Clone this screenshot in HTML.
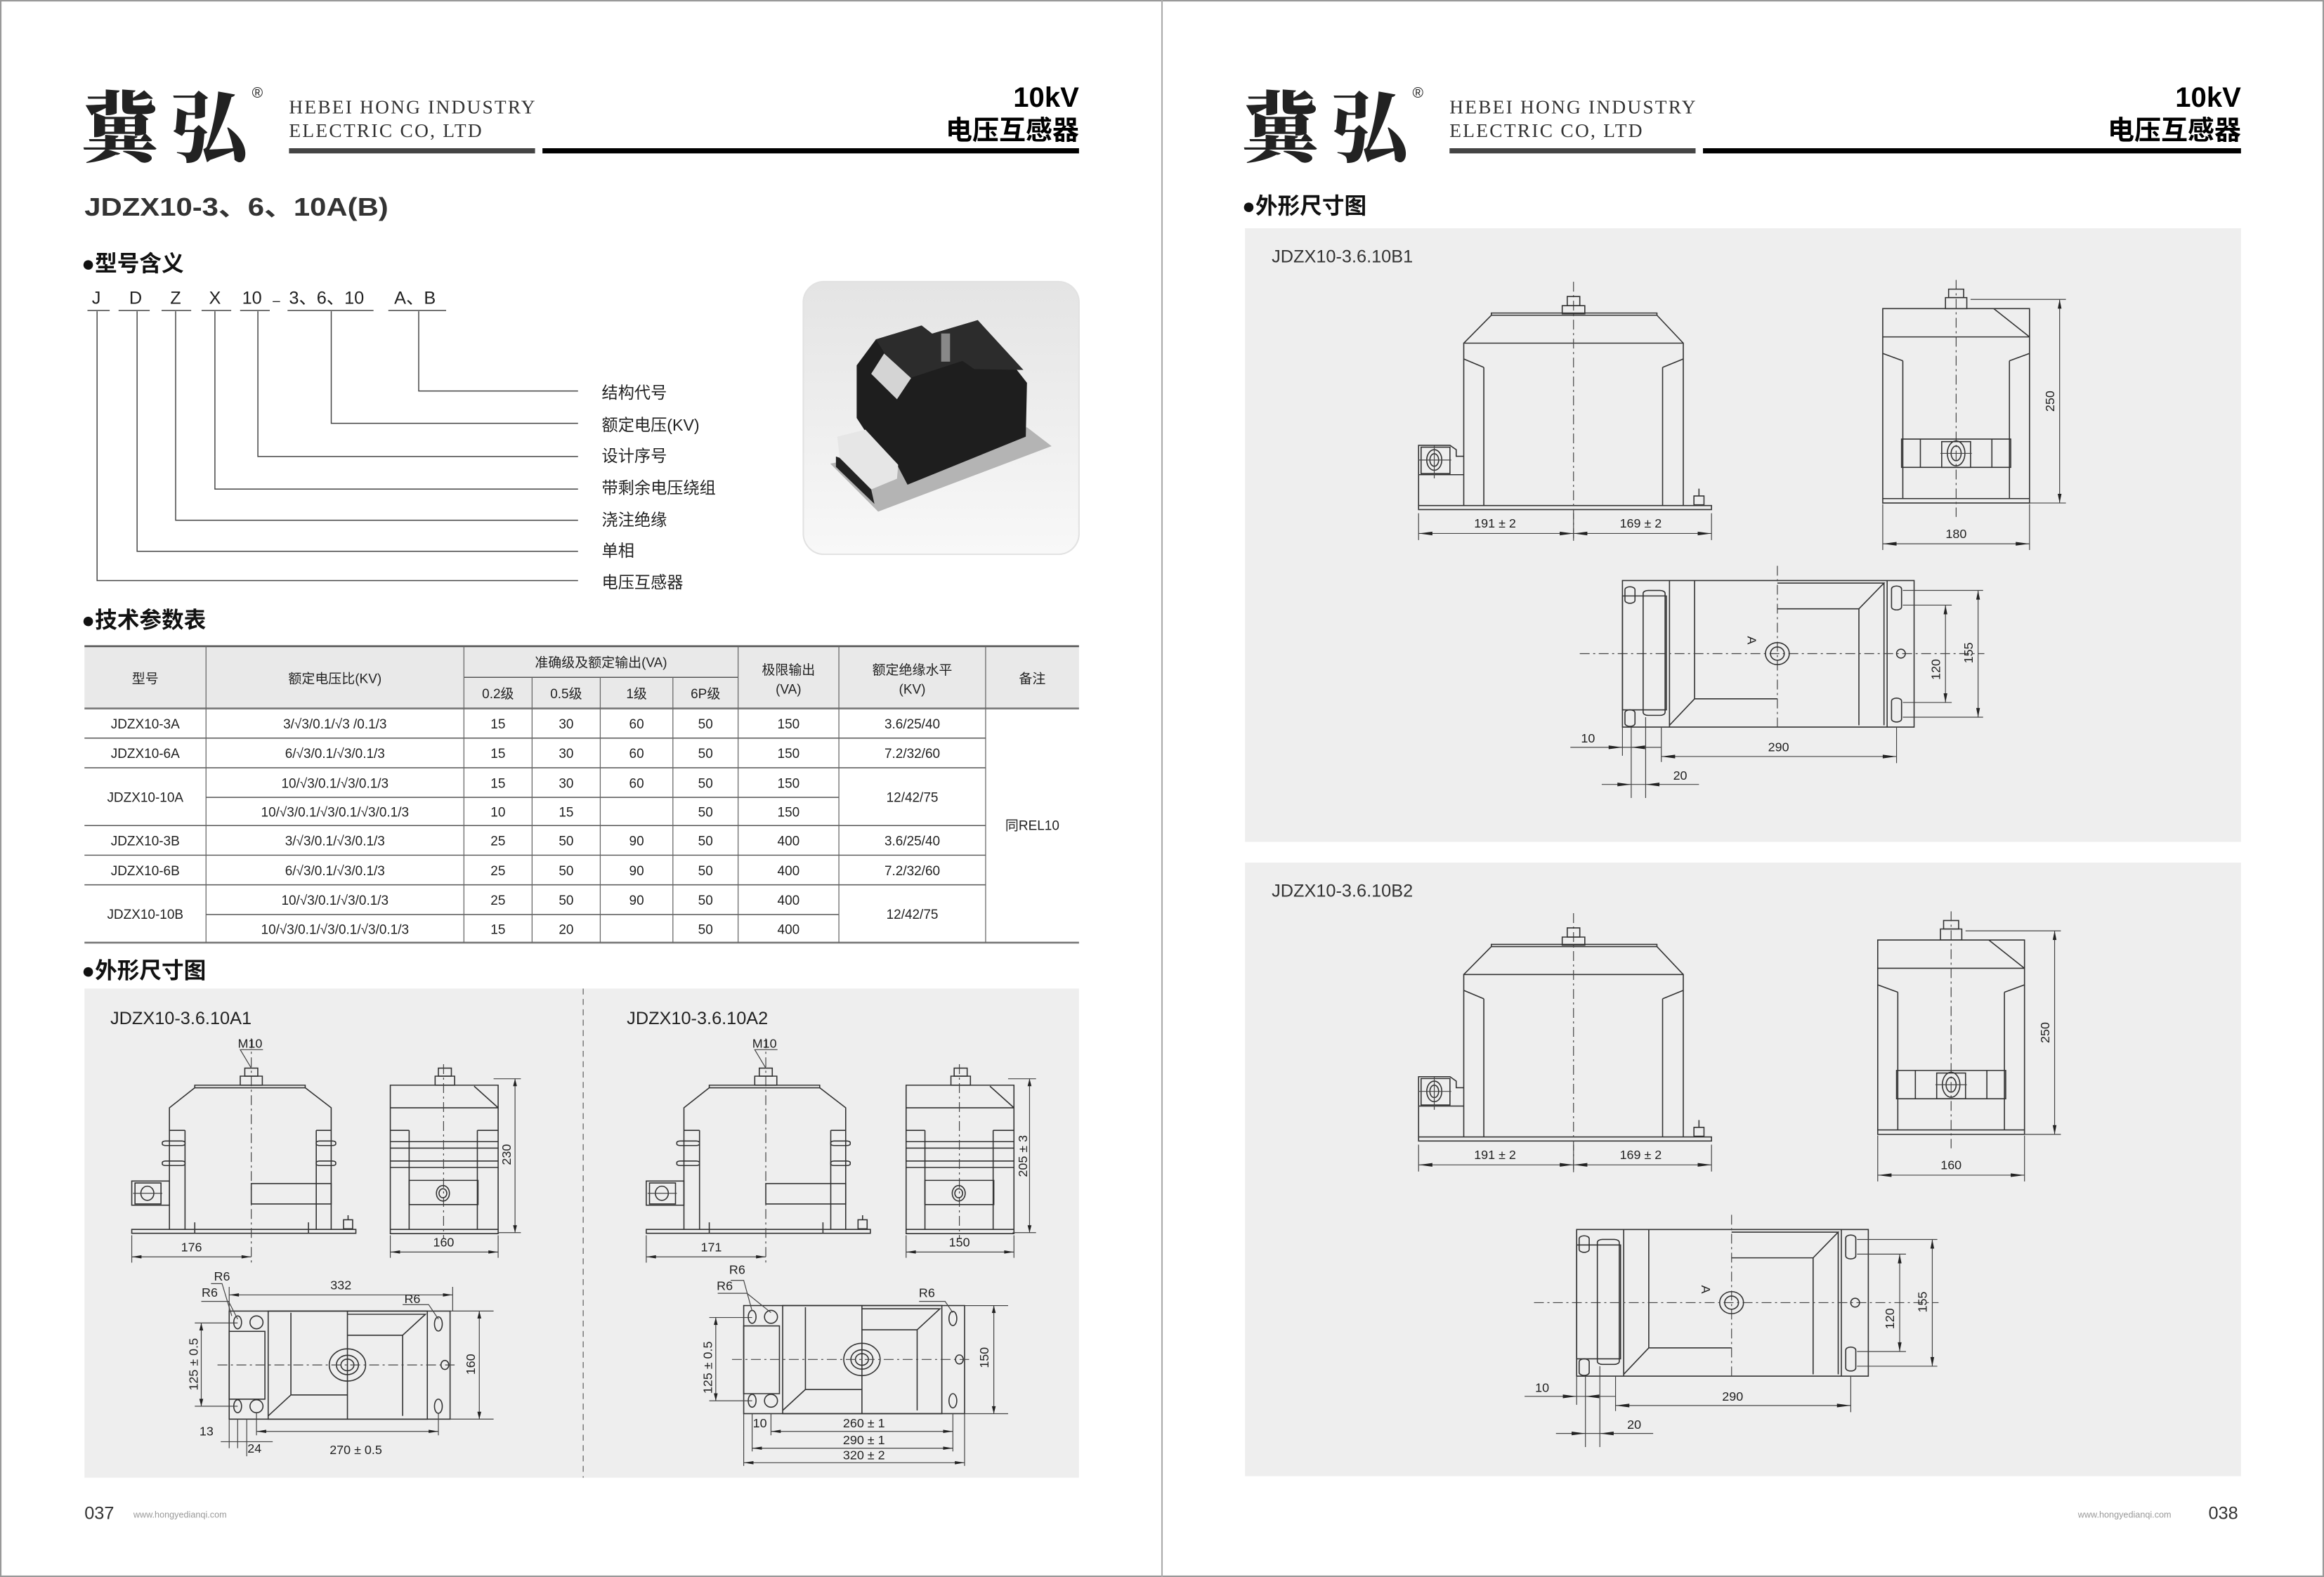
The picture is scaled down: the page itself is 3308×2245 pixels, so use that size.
<!DOCTYPE html>
<html><head><meta charset="utf-8"><style>
html,body{margin:0;padding:0;background:#fff;}
svg{display:block;}
text{font-family:"Liberation Sans","Noto Sans CJK SC",sans-serif;fill:#222;}
.d{fill:none;stroke:#333;stroke-width:1.6;vector-effect:non-scaling-stroke;}
.c{fill:none;stroke:#444;stroke-width:1.2;stroke-dasharray:14 5 3 5;vector-effect:non-scaling-stroke;}
.t{fill:none;stroke:#444;stroke-width:1.2;vector-effect:non-scaling-stroke;}
.a{fill:#222;stroke:none;}
.dim{font-size:8.5px;fill:#222;}
</style></head><body>
<svg width="3308" height="2245" viewBox="0 0 1568 1064" preserveAspectRatio="none" xmlns="http://www.w3.org/2000/svg">
<defs>
<g id="bf">
 <rect class="d" x="268" y="764" width="467" height="11"/>
 <path class="d" d="M340 764V322H690V764M372 764V388M657 764V388M340 365L372 388M690 365L657 388M340 322L384 246M690 322L648 246"/>
 <rect class="d" x="384" y="240" width="264" height="6"/>
 <path class="c" d="M515 155V860"/>
 <rect class="d" x="497" y="220" width="36" height="22"/>
 <rect class="d" x="505" y="195" width="20" height="25"/>
 <path class="d" d="M268 764V600H318L328 612V630H340M268 680H340"/>
 <rect class="d" x="272" y="605" width="46" height="72"/>
 <ellipse class="d" cx="293" cy="640" rx="12" ry="28"/>
 <ellipse class="d" cx="293" cy="640" rx="7" ry="17"/>
 <path class="t" d="M268 640H320M293 600V690"/>
 <rect class="d" x="707" y="738" width="16" height="24"/>
 <path class="d" d="M715 718V738"/>
 <path class="t" d="M268 785V858M515 785V860M735 785V858M268 840H735"/>
 <polygon class="a" points="268,840 290,835 290,845"/><polygon class="a" points="515,840 493,835 493,845"/>
 <polygon class="a" points="515,840 537,835 537,845"/><polygon class="a" points="735,840 713,835 713,845"/>
</g>
<g id="bs">
 <rect class="d" x="1008" y="228" width="234" height="529"/>
 <path class="d" d="M1008 305H1242M1185 228L1242 305M1040 745V370M1210 745V370M1008 350L1040 370M1242 350L1210 370M1008 745H1242"/>
 <rect class="d" x="1108" y="198" width="34" height="30"/>
 <rect class="d" x="1113" y="175" width="24" height="23"/>
 <path class="c" d="M1125 150V795"/>
 <rect class="d" x="1038" y="583" width="174" height="77"/>
 <path class="d" d="M1068 583V660M1182 583V660M1102 590H1148V660H1102Z"/>
 <ellipse class="d" cx="1125" cy="622" rx="14" ry="34"/>
 <ellipse class="d" cx="1125" cy="622" rx="8" ry="20"/>
 <path class="t" d="M1100 622H1150M1148 203H1300M1242 757H1300M1290 203V757M1008 760V885M1242 760V885M1008 868H1242"/>
 <polygon class="a" points="1290,203 1287,228 1293,228"/><polygon class="a" points="1290,757 1287,732 1293,732"/>
 <polygon class="a" points="1008,868 1030,863 1030,873"/><polygon class="a" points="1242,868 1220,863 1220,873"/>
</g>
<g id="bp">
 <rect class="d" x="593" y="968" width="465" height="399"/>
 <path class="d" d="M668 968V1367M1015 968V1367M708 968V1290H840M668 1362L708 1290M840 975H1010L970 1045H840M970 1045V1362M1010 975V1362"/>
 <path class="c" d="M840 928V1375M525 1167H1170"/>
 <rect class="d" x="593" y="1010" width="70" height="310"/>
 <rect class="d" x="626" y="995" width="35" height="340" rx="8"/>
 <rect class="d" x="597" y="985" width="16" height="45" rx="8"/>
 <rect class="d" x="597" y="1320" width="16" height="45" rx="8"/>
 <rect class="d" x="1022" y="983" width="16" height="65" rx="8"/>
 <rect class="d" x="1022" y="1288" width="16" height="65" rx="8"/>
 <ellipse class="d" cx="840" cy="1167" rx="19" ry="30"/>
 <ellipse class="d" cx="840" cy="1167" rx="11" ry="18"/>
 <ellipse class="d" cx="1037" cy="1167" rx="7" ry="12"/>
 <path class="t" d="M1040 995H1168M1040 1340H1168M1040 1035H1118M1040 1300H1118M1160 995V1340M1108 1035V1300M655 1367V1462M1030 1367V1465M655 1447H1030M593 1367V1445M607 1367V1560M630 1340V1560M510 1422H655M560 1523H715"/>
 <polygon class="a" points="1160,995 1157,1020 1163,1020"/><polygon class="a" points="1160,1340 1157,1315 1163,1315"/>
 <polygon class="a" points="1108,1035 1105,1060 1111,1060"/><polygon class="a" points="1108,1300 1105,1275 1111,1275"/>
 <polygon class="a" points="655,1447 677,1442 677,1452"/><polygon class="a" points="1030,1447 1008,1442 1008,1452"/>
 <polygon class="a" points="593,1422 571,1417 571,1427"/><polygon class="a" points="607,1422 629,1417 629,1427"/>
 <polygon class="a" points="607,1523 585,1518 585,1528"/><polygon class="a" points="630,1523 652,1518 652,1528"/>
</g>
<g id="af">
 <rect class="d" x="73" y="762" width="345" height="12"/>
 <path class="d" d="M131 762V385L170 323M380 762V385L340 323M155 762V455M357 762V455M131 455H155M357 455H380"/>
 <rect class="d" x="170" y="315" width="170" height="8"/>
 <rect class="d" x="120" y="488" width="35" height="14" rx="5"/>
 <rect class="d" x="120" y="550" width="35" height="14" rx="5"/>
 <rect class="d" x="357" y="488" width="30" height="14" rx="5"/>
 <rect class="d" x="357" y="550" width="30" height="14" rx="5"/>
 <rect class="d" x="257" y="620" width="123" height="63"/>
 <path class="c" d="M257 170V870"/>
 <rect class="d" x="240" y="287" width="34" height="28"/>
 <rect class="d" x="247" y="262" width="20" height="25"/>
 <path class="t" d="M257 262L240 205H275"/>
 <rect class="d" x="73" y="612" width="58" height="75"/>
 <rect class="d" x="78" y="618" width="40" height="65"/>
 <ellipse class="d" cx="97" cy="650" rx="10" ry="22"/>
 <path class="t" d="M75 650H120"/>
 <rect class="d" x="399" y="732" width="14" height="28"/>
 <path class="d" d="M406 718V732M170 740V775M345 740V775"/>
 <path class="t" d="M73 780V865M73 847H257"/>
 <polygon class="a" points="73,847 88,842 88,852"/><polygon class="a" points="257,847 242,842 242,852"/>
</g>
<g id="as">
 <rect class="d" x="471" y="315" width="166" height="460"/>
 <path class="d" d="M471 385H637M600 318L637 385M471 455H500M605 455H637M471 490H637M471 510H637M471 550H637M471 570H637M471 762H637M500 455V762M605 455V762"/>
 <rect class="d" x="540" y="287" width="30" height="28"/>
 <rect class="d" x="545" y="262" width="20" height="25"/>
 <path class="c" d="M553 250V790"/>
 <rect class="d" x="500" y="610" width="106" height="75"/>
 <ellipse class="d" cx="552" cy="650" rx="10" ry="24"/>
 <ellipse class="d" cx="552" cy="650" rx="6" ry="14"/>
 <path class="t" d="M471 780V850M637 780V850M471 832H637"/>
 <polygon class="a" points="471,832 486,827 486,837"/><polygon class="a" points="637,832 622,827 622,837"/>
</g>
<g id="ap">
 <rect class="d" x="223" y="1015" width="340" height="335"/>
 <rect class="d" x="283" y="1015" width="245" height="335"/>
 <path class="d" d="M318 1020V1275H405M283 1340L318 1275M405 1025H525L490 1090H405M490 1090V1340M405 1015V1350"/>
 <rect class="d" x="223" y="1078" width="55" height="210"/>
 <ellipse class="d" cx="265" cy="1050" rx="10" ry="20"/>
 <ellipse class="d" cx="265" cy="1310" rx="10" ry="20"/>
 <ellipse class="d" cx="236" cy="1050" rx="6" ry="20"/>
 <ellipse class="d" cx="236" cy="1310" rx="6" ry="20"/>
 <ellipse class="d" cx="545" cy="1055" rx="6" ry="22"/>
 <ellipse class="d" cx="545" cy="1310" rx="6" ry="22"/>
 <ellipse class="d" cx="555" cy="1182" rx="6" ry="14"/>
 <ellipse class="d" cx="405" cy="1182" rx="28" ry="50"/>
 <ellipse class="d" cx="405" cy="1182" rx="17" ry="30"/>
 <ellipse class="d" cx="405" cy="1182" rx="10" ry="18"/>
 <path class="c" d="M205 1182H570"/>
</g>
</defs>

<rect x="0.5" y="0.5" width="1567" height="1063" fill="#fff" stroke="#999" stroke-width="1"/>
<line x1="784" y1="0" x2="784" y2="1064" stroke="#aaa" stroke-width="1"/>

<text x="55" y="105" style="font-family:'Noto Serif CJK SC',serif;font-weight:900;font-size:52px;fill:#222" textLength="112">冀弘</text>
<text x="170" y="66" style="font-size:10px">®</text>
<text x="195" y="76.5" style="font-family:'Liberation Serif',serif;font-size:13px;fill:#333" textLength="166">HEBEI HONG INDUSTRY</text>
<text x="195" y="92.5" style="font-family:'Liberation Serif',serif;font-size:13px;fill:#333" textLength="130">ELECTRIC CO, LTD</text>
<rect x="195" y="100" width="166" height="3.5" fill="#444"/>
<rect x="366" y="100" width="362" height="3.5" fill="#000"/>
<text x="728" y="72" text-anchor="end" style="font-weight:bold;font-size:19px;fill:#000">10kV</text>
<text x="728" y="94" text-anchor="end" style="font-weight:bold;font-size:18px;fill:#000">电压互感器</text>

<text x="57" y="145.5" style="font-weight:bold;font-size:17px;fill:#333" textLength="205" lengthAdjust="spacingAndGlyphs">JDZX10-3、6、10A(B)</text>
<text x="55" y="183" style="font-weight:bold;font-size:15px;fill:#111">●型号含义</text>

<g style="font-size:12px;fill:#333">
<text x="65" y="205" text-anchor="middle">J</text>
<text x="91.5" y="205" text-anchor="middle">D</text>
<text x="118.5" y="205" text-anchor="middle">Z</text>
<text x="145" y="205" text-anchor="middle">X</text>
<text x="170" y="205" text-anchor="middle">10</text>
<text x="184" y="206" style="font-size:9px">–</text>
<text x="195" y="205">3、6、10</text>
<text x="266" y="205">A、B</text>
</g>
<g stroke="#444" stroke-width="0.7" fill="none">
<path d="M59 209.5H74M80 209.5H101M109 209.5H129M136 209.5H156M162 209.5H182M194 209.5H252M262 209.5H301"/>
<path d="M282.5 210V263.8H390M223.5 210V285.6H390M174 210V308H390M145 210V330H390M118.5 210V351H390M92.5 210V372H390M65.5 210V391.7H390"/>
</g>
<g style="font-size:11px;fill:#333">
<text x="406" y="268.7">结构代号</text>
<text x="406" y="290.5">额定电压(KV)</text>
<text x="406" y="311.4">设计序号</text>
<text x="406" y="333">带剩余电压绕组</text>
<text x="406" y="354.4">浇注绝缘</text>
<text x="406" y="375.4">单相</text>
<text x="406" y="396.6">电压互感器</text>
</g>

<defs><linearGradient id="pg" x1="0" y1="0" x2="0" y2="1"><stop offset="0" stop-color="#e4e4e4"/><stop offset="1" stop-color="#f8f8f8"/></linearGradient></defs>
<rect x="542" y="190" width="186" height="184" rx="14" fill="url(#pg)" stroke="#e2e2e2"/>
<polygon points="560.2,312.8 592.5,345.2 709.5,301 692.9,288.3" fill="#b4b4b4"/>
<polygon points="578,246.5 591,229 621.8,219.6 628.9,225.1 659.7,216 692.9,258.3 692.1,294.6 612.3,327 604.4,312 586.2,294.6 578,282" fill="#1e1e1e"/>
<polygon points="591,229 621.8,219.6 628.9,225.1 659.7,216 690.5,249.6 657.3,249 649.4,243.5 608.3,256.9" fill="#2c2c2c"/>
<polygon points="587.8,252.2 596.5,238.5 614.7,255.1 605.2,269.4" fill="#d4d4d4"/>
<polygon points="564.9,294.6 583.9,289.9 606,313.6 605.2,323 587.8,330.2 566.5,308.9" fill="#e6e6e6"/>
<polygon points="564,308 566.5,308.9 587.8,330.2 590,340 564,315" fill="#222"/>
<rect x="635" y="225" width="6" height="19" fill="#888"/>

<text x="55" y="423.5" style="font-weight:bold;font-size:15px;fill:#111">●技术参数表</text>

<rect x="57" y="436" width="671" height="42" fill="#e9e9e9"/>
<g stroke="#555" fill="none">
<path d="M57 436H728" stroke-width="1.2"/>
<path d="M57 478H728" stroke-width="1.3" stroke="#777"/>
<path d="M57 636H728" stroke-width="1.2" stroke="#777"/>
<path d="M313 457H498" stroke-width="0.7"/>
<path d="M57 498H665M57 518H665M139 538H566M57 557H665M57 577H665M57 597H665M139 617H566" stroke-width="0.7"/>
<path d="M139 436V636M313 436V636M359 457V636M405 457V636M454 457V636M498 436V636M566 436V636M665 436V636" stroke-width="0.6" stroke="#666"/>
</g>
<g style="font-size:9px" text-anchor="middle">
<text x="98" y="461">型号</text>
<text x="226" y="461">额定电压比(KV)</text>
<text x="405.5" y="450">准确级及额定输出(VA)</text>
<text x="336" y="471">0.2级</text><text x="382" y="471">0.5级</text><text x="429.5" y="471">1级</text><text x="476" y="471">6P级</text>
<text x="532" y="455">极限输出</text><text x="532" y="468">(VA)</text>
<text x="615.5" y="455">额定绝缘水平</text><text x="615.5" y="468">(KV)</text>
<text x="696.5" y="461">备注</text>
<text x="98" y="491.5">JDZX10-3A</text><text x="226" y="491.5">3/√3/0.1/√3 /0.1/3</text><text x="336" y="491.5">15</text><text x="382" y="491.5">30</text><text x="429.5" y="491.5">60</text><text x="476" y="491.5">50</text><text x="532" y="491.5">150</text><text x="615.5" y="491.5">3.6/25/40</text>
<text x="98" y="511.5">JDZX10-6A</text><text x="226" y="511.5">6/√3/0.1/√3/0.1/3</text><text x="336" y="511.5">15</text><text x="382" y="511.5">30</text><text x="429.5" y="511.5">60</text><text x="476" y="511.5">50</text><text x="532" y="511.5">150</text><text x="615.5" y="511.5">7.2/32/60</text>
<text x="98" y="541">JDZX10-10A</text>
<text x="226" y="531.5">10/√3/0.1/√3/0.1/3</text><text x="336" y="531.5">15</text><text x="382" y="531.5">30</text><text x="429.5" y="531.5">60</text><text x="476" y="531.5">50</text><text x="532" y="531.5">150</text>
<text x="615.5" y="541">12/42/75</text>
<text x="226" y="551">10/√3/0.1/√3/0.1/√3/0.1/3</text><text x="336" y="551">10</text><text x="382" y="551">15</text><text x="476" y="551">50</text><text x="532" y="551">150</text>
<text x="98" y="570.5">JDZX10-3B</text><text x="226" y="570.5">3/√3/0.1/√3/0.1/3</text><text x="336" y="570.5">25</text><text x="382" y="570.5">50</text><text x="429.5" y="570.5">90</text><text x="476" y="570.5">50</text><text x="532" y="570.5">400</text><text x="615.5" y="570.5">3.6/25/40</text>
<text x="98" y="590.5">JDZX10-6B</text><text x="226" y="590.5">6/√3/0.1/√3/0.1/3</text><text x="336" y="590.5">25</text><text x="382" y="590.5">50</text><text x="429.5" y="590.5">90</text><text x="476" y="590.5">50</text><text x="532" y="590.5">400</text><text x="615.5" y="590.5">7.2/32/60</text>
<text x="98" y="620">JDZX10-10B</text>
<text x="226" y="610.5">10/√3/0.1/√3/0.1/3</text><text x="336" y="610.5">25</text><text x="382" y="610.5">50</text><text x="429.5" y="610.5">90</text><text x="476" y="610.5">50</text><text x="532" y="610.5">400</text>
<text x="615.5" y="620">12/42/75</text>
<text x="226" y="630">10/√3/0.1/√3/0.1/√3/0.1/3</text><text x="336" y="630">15</text><text x="382" y="630">20</text><text x="476" y="630">50</text><text x="532" y="630">400</text>
<text x="696.5" y="560">同REL10</text>
</g>

<text x="55" y="660" style="font-weight:bold;font-size:15px;fill:#111">●外形尺寸图</text>
<rect x="57" y="667" width="671" height="330" fill="#eeeeee"/>
<line x1="393.5" y1="667" x2="393.5" y2="997" stroke="#777" stroke-width="0.7" stroke-dasharray="4 3"/>

<g transform="translate(56.9,663.6) scale(0.4383,0.2177)">
 <use href="#af"/><use href="#as"/><use href="#ap"/>
 <use href="#af" transform="translate(792,0)"/><use href="#as" transform="translate(794,0)"/><use href="#ap" transform="translate(792,-17)"/>
 <path class="t" d="M663 295V772M630 295H672M637 772H672M223 965H567M223 940V1015M567 940V1015M608 1015V1350M563 1015H630M563 1350H630M180 1052V1310M170 1052H236M170 1310H236M265 1388H545M265 1330V1400M545 1330V1400M210 1420H290M223 1350V1440M236 1350V1440M250 1350V1465M1455 295V772M1422 295H1465M1429 772H1465M1400 998V1333M1355 998H1422M1355 1333H1422M972 1035V1293M962 1035H1028M962 1293H1028M1057 1388H1337M1028 1440H1337M1015 1485H1355M1015 1333V1495M1028 1333V1450M1057 1333V1400M1337 1333V1450M1355 1333V1495"/>
 <path class="t" d="M227 1030L212 930H195M236 1040L222 985H180M545 1040L530 995H490M1028 1015L1015 920H995M1057 1020L1020 960H975M1337 1020L1325 985H1285"/>
 <polygon class="a" points="663,295 660,318 666,318"/><polygon class="a" points="663,772 660,749 666,749"/>
 <polygon class="a" points="223,965 238,960 238,970"/><polygon class="a" points="567,965 552,960 552,970"/>
 <polygon class="a" points="608,1015 605,1038 611,1038"/><polygon class="a" points="608,1350 605,1327 611,1327"/>
 <polygon class="a" points="180,1052 177,1075 183,1075"/><polygon class="a" points="180,1310 177,1287 183,1287"/>
 <polygon class="a" points="265,1388 280,1383 280,1393"/><polygon class="a" points="545,1388 530,1383 530,1393"/>
 <polygon class="a" points="1455,295 1452,318 1458,318"/><polygon class="a" points="1455,772 1452,749 1458,749"/>
 <polygon class="a" points="1400,998 1397,1021 1403,1021"/><polygon class="a" points="1400,1333 1397,1310 1403,1310"/>
 <polygon class="a" points="972,1035 969,1058 975,1058"/><polygon class="a" points="972,1293 969,1270 975,1270"/>
 <polygon class="a" points="1057,1388 1072,1383 1072,1393"/><polygon class="a" points="1337,1388 1322,1383 1322,1393"/>
 <polygon class="a" points="1028,1440 1043,1435 1043,1445"/><polygon class="a" points="1337,1440 1322,1435 1322,1445"/>
 <polygon class="a" points="1015,1485 1030,1480 1030,1490"/><polygon class="a" points="1355,1485 1340,1480 1340,1490"/>
</g>
<g style="font-size:12px;fill:#333">
<text x="74.4" y="691">JDZX10-3.6.10A1</text>
<text x="422.9" y="691">JDZX10-3.6.10A2</text>
</g>
<g class="dim" text-anchor="middle">
<text x="168.7" y="707">M10</text><text x="515.8" y="707">M10</text>
<text x="129.2" y="844.3">176</text><text x="479.9" y="844.3">171</text>
<text x="299.3" y="841">160</text><text x="647.3" y="841">150</text>
<text transform="translate(344.5,779) rotate(-90)">230</text>
<text transform="translate(693,780) rotate(-90)">205 ± 3</text>
<text x="230" y="870">332</text>
<text x="149.8" y="864">R6</text><text x="141.5" y="874.8">R6</text><text x="278.2" y="879.1">R6</text>
<text transform="translate(320.5,920.5) rotate(-90)">160</text>
<text transform="translate(133.5,920.5) rotate(-90)">125 ± 0.5</text>
<text x="139.3" y="968.4">13</text><text x="171.7" y="980">24</text><text x="240.1" y="981">270 ± 0.5</text>
<text x="497.4" y="859.5">R6</text><text x="489" y="870.4">R6</text><text x="625.4" y="875.2">R6</text>
<text transform="translate(667,916) rotate(-90)">150</text>
<text transform="translate(480.5,922.7) rotate(-90)">125 ± 0.5</text>
<text x="512.7" y="963">10</text><text x="582.9" y="963">260 ± 1</text><text x="582.9" y="974.5">290 ± 1</text><text x="582.9" y="984.5">320 ± 2</text>
</g>

<text x="57" y="1025" style="font-size:12px;fill:#333">037</text>
<text x="90" y="1024" style="font-size:6px;fill:#999">www.hongyedianqi.com</text>

<text x="838" y="105" style="font-family:'Noto Serif CJK SC',serif;font-weight:900;font-size:52px;fill:#222" textLength="112">冀弘</text>
<text x="953" y="66" style="font-size:10px">®</text>
<text x="978" y="76.5" style="font-family:'Liberation Serif',serif;font-size:13px;fill:#333" textLength="166">HEBEI HONG INDUSTRY</text>
<text x="978" y="92.5" style="font-family:'Liberation Serif',serif;font-size:13px;fill:#333" textLength="130">ELECTRIC CO, LTD</text>
<rect x="978" y="100" width="166" height="3.5" fill="#444"/>
<rect x="1149" y="100" width="363" height="3.5" fill="#000"/>
<text x="1512" y="72" text-anchor="end" style="font-weight:bold;font-size:19px;fill:#000">10kV</text>
<text x="1512" y="94" text-anchor="end" style="font-weight:bold;font-size:18px;fill:#000">电压互感器</text>

<text x="838" y="144" style="font-weight:bold;font-size:15px;fill:#111">●外形尺寸图</text>
<rect x="840" y="154" width="672" height="414" fill="#eeeeee"/>
<rect x="840" y="582" width="672" height="414" fill="#eeeeee"/>
<text x="858" y="177" style="font-size:12px;fill:#333">JDZX10-3.6.10B1</text>
<text x="858" y="605" style="font-size:12px;fill:#333">JDZX10-3.6.10B2</text>

<g transform="translate(843.7,151.7) scale(0.4232,0.2479)">
 <use href="#bf"/><use href="#bs"/><use href="#bp"/>
</g>
<g transform="translate(843.7,577.7) scale(0.4232,0.2479)">
 <use href="#bf"/><use href="#bs" transform="translate(-8,0)"/><use href="#bp" transform="translate(-73,48)"/>
</g>
<g class="dim" text-anchor="middle">
<text x="1008.7" y="356">191 ± 2</text><text x="1107" y="356">169 ± 2</text>
<text transform="translate(1386,270.7) rotate(-90)">250</text>
<text x="1319.8" y="363">180</text>
<text transform="translate(1179,432) rotate(90)">A</text>
<text transform="translate(1331,440.5) rotate(-90)">155</text>
<text transform="translate(1309,451.7) rotate(-90)">120</text>
<text x="1071.4" y="501">10</text><text x="1200" y="507">290</text><text x="1133.6" y="526">20</text>
<text x="1008.7" y="782">191 ± 2</text><text x="1107" y="782">169 ± 2</text>
<text transform="translate(1382.6,696.7) rotate(-90)">250</text>
<text x="1316.4" y="789">160</text>
<text transform="translate(1148,870) rotate(90)">A</text>
<text transform="translate(1300,878.5) rotate(-90)">155</text>
<text transform="translate(1278,889.7) rotate(-90)">120</text>
<text x="1040.5" y="939">10</text><text x="1169" y="945">290</text><text x="1102.6" y="964">20</text>
</g>

<text x="1402" y="1024" style="font-size:6px;fill:#999">www.hongyedianqi.com</text>
<text x="1490" y="1025" style="font-size:12px;fill:#333">038</text>
</svg>
</body></html>
